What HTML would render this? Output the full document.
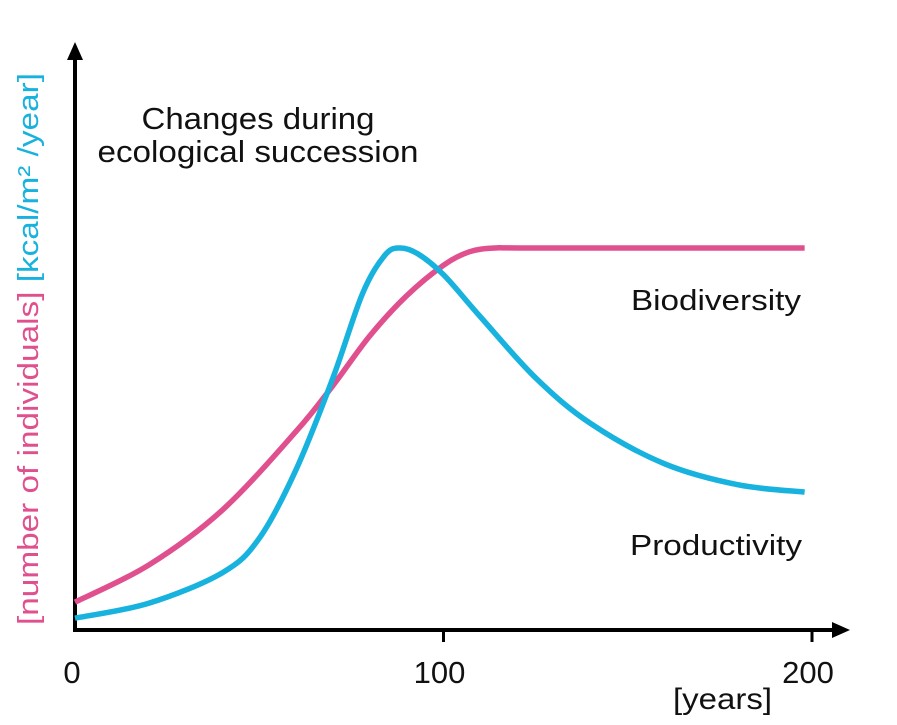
<!DOCTYPE html>
<html><head><meta charset="utf-8"><style>
html,body{margin:0;padding:0;background:#fff;}
svg{display:block;font-family:"Liberation Sans",Arial,sans-serif;}
</style></head><body>
<svg id="chart" width="897" height="725" viewBox="0 0 897 725" xmlns="http://www.w3.org/2000/svg">
<g id="axes">
<line x1="75" y1="630" x2="75" y2="55" stroke="#000" stroke-width="4"/>
<polygon points="75,42 67,60 83,60" fill="#000"/>
<line x1="73" y1="630" x2="836" y2="630" stroke="#000" stroke-width="4"/>
<polygon points="850,630 832,622 832,638" fill="#000"/>
</g>
<g id="ticks"></g>
<g id="series"></g>
<text font-size="31" text-anchor="middle" fill="#111"><tspan x="258" y="129" textLength="233" lengthAdjust="spacingAndGlyphs">Changes during</tspan><tspan x="258" y="162" textLength="321" lengthAdjust="spacingAndGlyphs">ecological succession</tspan></text>
<text x="801" y="310" font-size="29" text-anchor="end" fill="#111" textLength="170" lengthAdjust="spacingAndGlyphs">Biodiversity</text>
<text x="802" y="555" font-size="29" text-anchor="end" fill="#111" textLength="172" lengthAdjust="spacingAndGlyphs">Productivity</text>
<text x="673" y="709" font-size="30" fill="#111" textLength="99" lengthAdjust="spacingAndGlyphs">[years]</text>
<text transform="translate(38,625) rotate(-90)" font-size="29" textLength="552" lengthAdjust="spacingAndGlyphs"><tspan fill="#e0508e">[number of individuals]</tspan><tspan fill="#18b2de"> [kcal/m² /year]</tspan></text>
</svg>
<script>
const tickValues=[0,100,200];
const tickLabels=["0","100","200"];
const pinkYears=[0,20,40,60,70,80,90,100,107,114,125,198];
const pinkValues=[7.3,17,31.4,52,64,77,87.5,95.5,99,100,100,100];
const blueYears=[0,20,40,50,60,70,78,84,88,93,100,110,125,140,160,180,198];
const blueValues=[3.1,7,15,24,42,66,88,98,100,98.5,93,82,66,54,43.5,38,36.1];
const NS="http://www.w3.org/2000/svg";
function xs(v){return 75+v*3.685;}
function ys(v){return 630-v*3.82;}
const tg=document.getElementById('ticks');
tickValues.forEach((t,i)=>{
  if(t>0){const l=document.createElementNS(NS,'line');
  
  
  l.setAttribute('x1',xs(t));l.setAttribute('x2',xs(t));l.setAttribute('y1',630);l.setAttribute('y2',642);
  l.setAttribute('stroke','#000');l.setAttribute('stroke-width','3');tg.appendChild(l);}
  const tx=document.createElementNS(NS,'text');
  
  
  tx.setAttribute('x',t===0?xs(t)-3:xs(t)-4);tx.setAttribute('y',683);tx.setAttribute('font-size','31');
  tx.setAttribute('text-anchor','middle');tx.setAttribute('fill','#111');tx.textContent=tickLabels[i];tg.appendChild(tx);
});
function smooth(px,py){
  const p=px.map((x,i)=>[xs(x),ys(py[i])]);
  let d='M'+p[0][0]+','+p[0][1];
  for(let i=0;i<p.length-1;i++){
    const p0=p[i-1]||p[i],p1=p[i],p2=p[i+1],p3=p[i+2]||p2;
    const c1=[p1[0]+(p2[0]-p0[0])/6,p1[1]+(p2[1]-p0[1])/6];
    const c2=[p2[0]-(p3[0]-p1[0])/6,p2[1]-(p3[1]-p1[1])/6];
    d+=' C'+c1[0]+','+c1[1]+' '+c2[0]+','+c2[1]+' '+p2[0]+','+p2[1];
  }
  return d;
}
const sg=document.getElementById('series');
const pk=document.createElementNS(NS,'path');


pk.setAttribute('d',smooth(pinkYears,pinkValues));
pk.setAttribute('fill','none');pk.setAttribute('stroke','#e0508e');pk.setAttribute('stroke-width','5.5');
sg.appendChild(pk);
const bl=document.createElementNS(NS,'path');


bl.setAttribute('d',smooth(blueYears,blueValues));
bl.setAttribute('fill','none');bl.setAttribute('stroke','#18b2de');bl.setAttribute('stroke-width','5.5');
sg.appendChild(bl);
</script>
</body></html>
